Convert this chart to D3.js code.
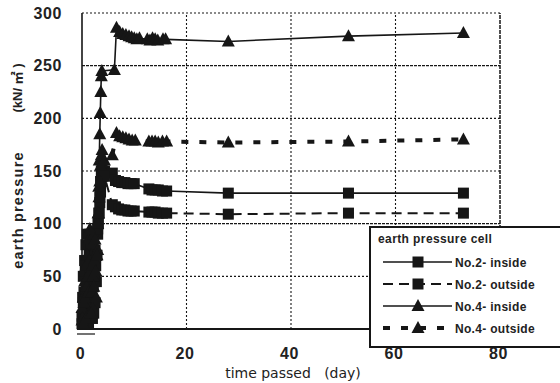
<!DOCTYPE html>
<html><head><meta charset="utf-8">
<script src="https://cdn.jsdelivr.net/npm/d3@7"></script>
<style>
html,body{margin:0;padding:0;background:#fff;}
svg{display:block;}
</style></head>
<body>
<svg id="chart" width="560" height="383"></svg>
<script>
// ---------- data ----------
const xTicks = [0, 20, 40, 60, 80];
const yTicks = [0, 50, 100, 150, 200, 250, 300];

const no2InDays  = [0,0.125,0.25,0.375,0.5,0.625,0.75,0.875,1.0,1.125,1.25,1.375,1.5,1.625,1.75,1.875,2.0,2.125,2.25,2.375,2.5,2.625,2.75,2.875,3.0,3.1,3.25,3.4,3.55,3.7,3.85,4.3,5.8,6.4,7.0,7.6,8.2,8.8,9.4,10.0,12.8,13.4,14.0,14.6,15.4,16.2,28,51,73];
const no2InVals  = [5,30,50,35,20,55,80,40,10,25,45,70,90,60,30,50,65,40,15,45,75,60,45,70,90,100,110,125,140,150,155,150,148,141,140,139,139,138,138,138,133,132,132,132,131,131,129,129,129];

const no2OutDays = [0,0.25,0.5,0.75,1.0,1.25,1.5,1.75,2.0,2.25,2.5,2.75,3.0,3.1,3.25,3.4,3.55,3.7,3.85,4.3,5.8,6.4,7.0,7.6,8.2,8.8,9.4,10.0,12.8,13.4,14.0,14.6,15.4,16.2,28,51,73];
const no2OutVals = [12,25,65,35,90,5,55,80,10,50,25,70,95,100,110,120,130,140,145,145,118,116,114,113,113,112,112,112,111,111,111,110,110,110,109,110,110];

const no4InDays  = [0,0.25,0.5,0.75,1.0,1.25,1.5,1.75,2.0,2.25,2.5,2.75,3.0,3.1,3.2,3.3,3.4,3.5,3.6,3.7,3.8,6.2,6.6,7.2,7.8,8.4,9.0,9.5,10.0,10.5,11.0,12.5,13.0,13.5,14.0,14.5,15.5,16.0,28,51,73];
const no4InVals  = [8,30,15,60,25,85,40,70,20,90,55,95,75,110,135,160,185,205,225,240,245,246,286,282,280,279,278,277,276,275,276,275,274,276,275,274,275,275,273,278,281];

const no4OutDays = [0,0.125,0.25,0.375,0.5,0.625,0.75,0.875,1.0,1.125,1.25,1.375,1.5,1.625,1.75,1.875,2.0,2.125,2.25,2.375,2.5,2.625,2.75,2.875,3.0,3.1,3.25,3.4,3.55,3.7,3.85,4.3,5.8,6.6,7.2,7.8,8.4,9.0,9.6,10.2,12.8,13.4,14.0,14.6,15.4,16.2,28,51,73];
const no4OutVals = [20,10,5,25,45,30,10,40,70,50,35,65,95,55,15,35,60,50,40,65,85,55,30,70,100,110,125,140,155,165,170,160,165,186,183,182,181,180,179,179,178,178,178,177,178,178,177,178,180];

const seriesNames = ["No.2- inside", "No.2- outside", "No.4- inside", "No.4- outside"];

// ---------- build ----------
const zip = (d, v) => d.map((x, i) => ({x, y: v[i]}));
const series = [
  {name: seriesNames[0], pts: zip(no2InDays, no2InVals),  marker: "square",   dash: null,    width: 1.6},
  {name: seriesNames[1], pts: zip(no2OutDays, no2OutVals), marker: "square",  dash: "10,6",  width: 2},
  {name: seriesNames[2], pts: zip(no4InDays, no4InVals),  marker: "triangle", dash: null,    width: 1.6},
  {name: seriesNames[3], pts: zip(no4OutDays, no4OutVals), marker: "triangle", dash: "7,11", width: 4}
];

const svg = d3.select("#chart");
const ink = "#161616";
const x = d3.scaleLinear().domain([0, 80]).range([82, 500]);
const y = d3.scaleLinear().domain([0, 300]).range([329, 13]);

// grid
const g = svg.append("g");
yTicks.filter(t => t > 0).forEach(t => {
  g.append("line").attr("x1", x(0)).attr("x2", x(80)).attr("y1", y(t)).attr("y2", y(t))
    .attr("stroke", ink).attr("stroke-width", 1.2)
    .attr("stroke-dasharray", (t === 100 || t === 250) ? "3,1" : "2,2");
});
xTicks.filter(t => t > 0 && t < 80).forEach(t => {
  g.append("line").attr("x1", x(t)).attr("x2", x(t)).attr("y1", y(0)).attr("y2", y(300))
    .attr("stroke", ink).attr("stroke-width", 1.1).attr("stroke-dasharray", "2,2");
});
// right border
g.append("line").attr("x1", x(80)).attr("x2", x(80)).attr("y1", y(0)).attr("y2", y(300))
  .attr("stroke", ink).attr("stroke-width", 1.5).attr("stroke-dasharray", "4,1");
// left border
g.append("line").attr("x1", x(0)).attr("x2", x(0)).attr("y1", y(0)).attr("y2", y(300))
  .attr("stroke", ink).attr("stroke-width", 1.6);
// bottom axis
g.append("line").attr("x1", x(0) - 5).attr("x2", x(80)).attr("y1", y(0)).attr("y2", y(0))
  .attr("stroke", ink).attr("stroke-width", 2);
// small mark below origin
g.append("line").attr("x1", x(0) - 5).attr("x2", x(0) + 13).attr("y1", y(0) + 5).attr("y2", y(0) + 5)
  .attr("stroke", ink).attr("stroke-width", 1.2);

// axes labels via d3 axes
const yAxis = d3.axisLeft(y).tickValues(yTicks).tickSize(0).tickPadding(20);
const ya = svg.append("g").attr("transform", `translate(${x(0)},0)`).call(yAxis);
ya.select(".domain").remove();
ya.selectAll("text").attr("font-family", "Liberation Sans, Arial, sans-serif")
  .attr("font-size", 16).attr("font-weight", "bold").attr("fill", "#222").attr("letter-spacing", "0.6px");

const xAxis = d3.axisBottom(x).tickValues(xTicks).tickSize(0).tickPadding(19);
const xa = svg.append("g").attr("transform", `translate(-2,${y(0)})`).call(xAxis);
xa.select(".domain").remove();
xa.selectAll("text").attr("font-family", "Liberation Sans, Arial, sans-serif")
  .attr("font-size", 16).attr("font-weight", "bold").attr("fill", "#222").attr("letter-spacing", "0.6px");

// axis titles
svg.append("text").attr("x", 293).attr("y", 378).attr("text-anchor", "middle")
  .attr("font-family", "DejaVu Sans, sans-serif").attr("font-size", 14).attr("fill", "#222")
  .attr("xml:space", "preserve").style("white-space", "pre").text("time passed   (day)");
svg.append("text").attr("transform", "translate(23,210) rotate(-90)").attr("text-anchor", "middle")
  .attr("font-family", "Liberation Sans, Arial, sans-serif").attr("font-size", 14.5).attr("font-weight", "bold")
  .attr("letter-spacing", "1.2px").attr("fill", "#222").text("earth pressure");
svg.append("text").attr("transform", "translate(22,88) rotate(-90)").attr("text-anchor", "middle")
  .attr("font-family", "Liberation Sans, 'Noto Sans CJK JP', sans-serif").attr("font-size", 13).attr("font-weight", "bold")
  .attr("fill", "#222").attr("xml:space", "preserve").style("white-space", "pre").text("(kN/ ㎡ )");

// markers
const line = d3.line().x(d => x(d.x)).y(d => y(d.y));
function drawMarker(sel, type, cx, cy) {
  if (type === "square") {
    sel.append("rect").attr("x", cx - 5.5).attr("y", cy - 5.5).attr("width", 11).attr("height", 11).attr("fill", ink);
  } else {
    sel.append("path").attr("d", `M${cx},${cy - 7}L${cx + 6.5},${cy + 5}L${cx - 6.5},${cy + 5}Z`).attr("fill", ink);
  }
}
const plot = svg.append("g");
series.forEach(s => {
  plot.append("path").datum(s.pts).attr("d", line).attr("fill", "none").attr("stroke", ink)
    .attr("stroke-width", s.width).attr("stroke-dasharray", s.dash);
});
series.forEach(s => {
  const mg = plot.append("g");
  s.pts.forEach(p => drawMarker(mg, s.marker, x(p.x), y(p.y)));
});

// legend
const lg = svg.append("g");
lg.append("rect").attr("x", 370).attr("y", 227).attr("width", 200).attr("height", 120)
  .attr("fill", "#fff").attr("stroke", ink).attr("stroke-width", 2);
lg.append("text").attr("x", 378).attr("y", 243).attr("font-family", "Liberation Sans, Arial, sans-serif")
  .attr("font-size", 12).attr("font-weight", "bold").attr("fill", "#222").attr("letter-spacing", "0.4px")
  .text("earth pressure cell");
const rowY = [262, 284, 306, 328];
series.forEach((s, i) => {
  const ry = rowY[i];
  lg.append("line").attr("x1", 383).attr("x2", 452).attr("y1", ry).attr("y2", ry)
    .attr("stroke", ink).attr("stroke-width", s.width).attr("stroke-dasharray", s.dash);
  drawMarker(lg, s.marker, 418, ry);
  lg.append("text").attr("x", 455).attr("y", ry + 4.5).attr("font-family", "Liberation Sans, Arial, sans-serif")
    .attr("font-size", 12).attr("font-weight", "bold").attr("fill", "#222").attr("letter-spacing", "0.3px")
    .text(s.name);
});
</script>
</body></html>
